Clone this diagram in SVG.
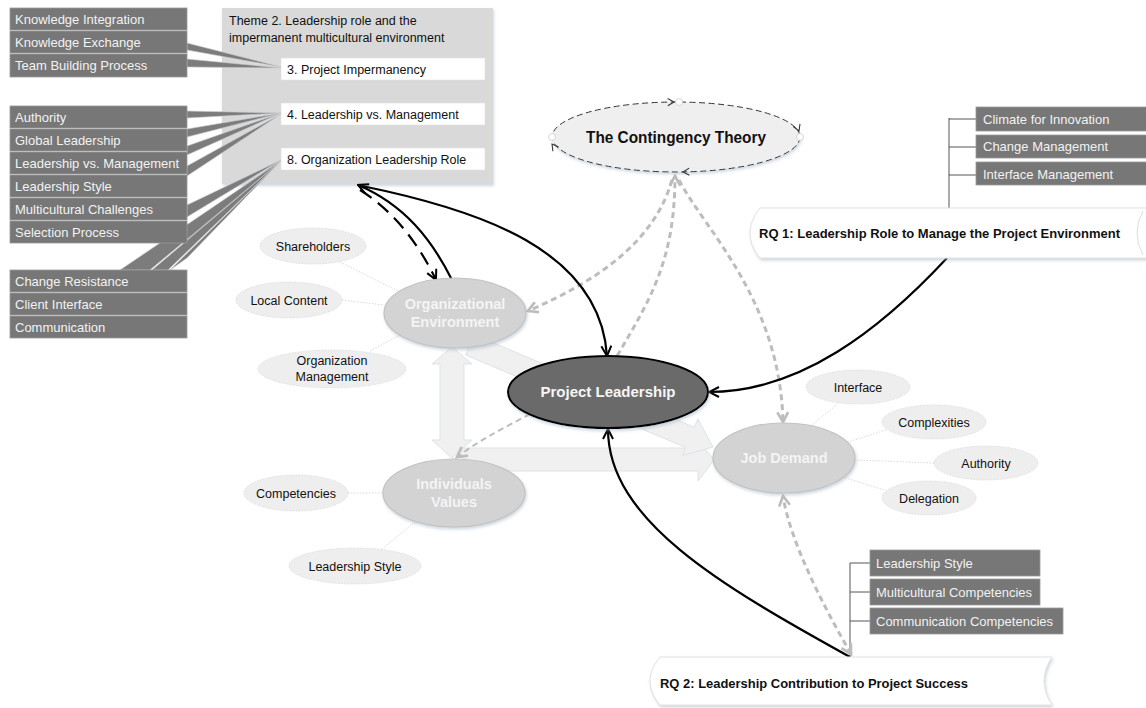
<svg xmlns="http://www.w3.org/2000/svg" width="1146" height="708" viewBox="0 0 1146 708">
<style>
text{font-family:"Liberation Sans",Arial,sans-serif}
.lb{fill:#777777;stroke:#9a9a9a;stroke-width:0.8}
.lt{fill:#f2f2f2;font-size:13px}
.wb{fill:#ffffff;stroke:#e0e0e0;stroke-width:0.6}
.wt{fill:#111;font-size:12.5px}
.wg{fill:#7c7c7c;stroke:#c8ccd2;stroke-width:0.6}
.sat{fill:#eeeeee;stroke:#d6d6d6;stroke-width:0.8;stroke-dasharray:1.5 1.5}
.st{fill:#111;font-size:12.5px;text-anchor:middle}
.main{fill:#d3d3d3;stroke:#c2c2c2;stroke-width:1.2}
.mt{fill:#f4f4f4;font-size:14.5px;font-weight:bold;text-anchor:middle}
.dot{stroke:#cfcfcf;stroke-width:0.8;stroke-dasharray:1.5 1.5;fill:none}
.pale{fill:#f0f0f0;stroke:#dbe3ea;stroke-width:1}
.blk{fill:none;stroke:#000;stroke-width:2.2}
.gd{fill:none;stroke:#bdbdbd;stroke-width:3;stroke-dasharray:6 4}
.br{fill:none;stroke:#555;stroke-width:1}
.rq{fill:#ffffff;stroke:#e2e2e2;stroke-width:1}
.rqt{fill:#111;font-size:13px;font-weight:bold}
</style>
<defs>
<filter id="sh" x="-10%" y="-10%" width="130%" height="150%">
<feDropShadow dx="1" dy="2" stdDeviation="1.5" flood-color="#9fb0c0" flood-opacity="0.5"/>
</filter>
<marker id="ab" viewBox="0 0 12 12" refX="11" refY="6" markerWidth="12" markerHeight="12" markerUnits="userSpaceOnUse" orient="auto">
<path d="M1,1 L11,6 L1,11" fill="none" stroke="#000" stroke-width="2"/>
</marker>
<marker id="ag" viewBox="0 0 12 12" refX="10" refY="6" markerWidth="13" markerHeight="13" markerUnits="userSpaceOnUse" orient="auto-start-reverse">
<path d="M1,1 L10,6 L1,11" fill="none" stroke="#bdbdbd" stroke-width="2.5"/>
</marker>
<marker id="as" viewBox="0 0 10 10" refX="8" refY="5" markerWidth="9" markerHeight="9" markerUnits="userSpaceOnUse" orient="auto">
<path d="M1,1 L8,5 L1,9" fill="none" stroke="#333" stroke-width="1.2"/>
</marker>
</defs>
<rect width="1146" height="708" fill="#ffffff"/>

<!-- pale background arrows -->
<g id="pale-arrows">
<polygon class="pale" points="452,347 472,364 464,364 464,440 472,440 452,458 432,440 440,440 440,364 432,364"/>
<polygon class="pale" points="462,448 698,448 698,440 714,460 698,481 698,471 462,471"/>
<polygon class="pale" points="474.3,334.9 694.3,427.2 697.8,418.9 713,447 682.2,455.7 685.7,447.4 465.7,355.1"/>
</g>

<!-- theme box -->
<g id="theme">
<rect x="222" y="8" width="271" height="176" fill="#d9d9d9" filter="url(#sh)"/>
<text x="229" y="25" class="wt">Theme 2. Leadership role and the</text>
<text x="229" y="42" class="wt">impermanent multicultural environment</text>
</g>
<g id="t3"><rect class="wb" x="281" y="58" width="204" height="22"/><text class="wt" x="287" y="74">3. Project Impermanency</text></g>
<g id="t4"><rect class="wb" x="281" y="103" width="204" height="22"/><text class="wt" x="287" y="119">4. Leadership vs. Management</text></g>
<g id="t8"><rect class="wb" x="281" y="148" width="204" height="22"/><text class="wt" x="287" y="164">8. Organization Leadership Role</text></g>

<!-- connectors -->
<g id="connectors">
<polygon class="wg" points="187,43 187,50 281,67"/>
<polygon class="wg" points="187,59 187,67 281,68"/>
<polygon class="wg" points="187,111 187,118 281,113"/>
<polygon class="wg" points="187,129 187,137 281,113"/>
<polygon class="wg" points="187,146 187,155 281,113"/>
<polygon class="wg" points="187,166 187,176 281,114"/>
<polygon class="wg" points="187,205 187,217 281,160"/>
<polygon class="wg" points="187,226 187,240 281,160"/>
<polygon class="wg" points="120,270 150,270 281,161"/>
<polygon class="wg" points="152,270 168,270 281,161"/>
<polygon class="wg" points="170,270 187,258 281,161"/>
<line class="dot" x1="340" y1="262" x2="400" y2="292"/>
<line class="dot" x1="342" y1="300" x2="384" y2="305"/>
<line class="dot" x1="370" y1="351" x2="400" y2="335"/>
<line class="dot" x1="348" y1="493" x2="383" y2="493"/>
<line class="dot" x1="382" y1="549" x2="415" y2="522"/>
<line class="dot" x1="840" y1="402" x2="812" y2="425"/>
<line class="dot" x1="886" y1="430" x2="848" y2="442"/>
<line class="dot" x1="934" y1="463" x2="856" y2="460"/>
<line class="dot" x1="884" y1="490" x2="846" y2="478"/>
<path class="br" d="M949,118 V208 M949,119 H976 M949,147 H976 M949,175 H976"/>
<path class="br" d="M850,563 V657 M850,563 H870 M850,592 H870 M850,621 H870"/>
<path class="gd" d="M672,180 C655,240 600,280 528,311" marker-end="url(#ag)"/>
<path class="gd" d="M617,356 C650,300 675,260 675,176" marker-end="url(#ag)"/>
<path class="gd" d="M679,180 C705,230 780,300 783,422" marker-end="url(#ag)"/>
<path class="gd" d="M530,414 C500,430 480,440 457,457" style="stroke-width:2" marker-end="url(#ag)"/>
<path class="gd" d="M851,654 C820,600 790,540 783,496" marker-start="url(#ag)" marker-end="url(#ag)"/>
<path class="blk" d="M452,280 C432,240 405,205 358,185" marker-end="url(#ab)"/>
<path class="blk" d="M360,190 C392,210 418,242 436,280" style="stroke-dasharray:14 8" marker-end="url(#ab)"/>
<path class="blk" d="M362,186 C480,210 600,250 607,356" marker-end="url(#ab)"/>
<path class="blk" d="M947,258 C880,330 800,392 709,392" marker-end="url(#ab)"/>
<path class="blk" d="M850,657 C720,585 608,520 608,429" marker-end="url(#ab)"/>
</g>

<!-- left boxes -->
<g id="n-ki"><rect class="lb" x="10" y="8" width="177" height="22"/><text class="lt" x="15" y="24">Knowledge Integration</text></g>
<g id="n-ke"><rect class="lb" x="10" y="31" width="177" height="22"/><text class="lt" x="15" y="47">Knowledge Exchange</text></g>
<g id="n-tb"><rect class="lb" x="10" y="54" width="177" height="23"/><text class="lt" x="15" y="70">Team Building Process</text></g>
<g id="n-au"><rect class="lb" x="10" y="106" width="177" height="22"/><text class="lt" x="15" y="122">Authority</text></g>
<g id="n-gl"><rect class="lb" x="10" y="129" width="177" height="22"/><text class="lt" x="15" y="145">Global Leadership</text></g>
<g id="n-lm"><rect class="lb" x="10" y="152" width="177" height="22"/><text class="lt" x="15" y="168">Leadership vs. Management</text></g>
<g id="n-ls"><rect class="lb" x="10" y="175" width="177" height="22"/><text class="lt" x="15" y="191">Leadership Style</text></g>
<g id="n-mc"><rect class="lb" x="10" y="198" width="177" height="22"/><text class="lt" x="15" y="214">Multicultural Challenges</text></g>
<g id="n-sp"><rect class="lb" x="10" y="221" width="177" height="22"/><text class="lt" x="15" y="237">Selection Process</text></g>
<g id="n-cr"><rect class="lb" x="10" y="270" width="177" height="22"/><text class="lt" x="15" y="286">Change Resistance</text></g>
<g id="n-ci"><rect class="lb" x="10" y="293" width="177" height="22"/><text class="lt" x="15" y="309">Client Interface</text></g>
<g id="n-co"><rect class="lb" x="10" y="316" width="177" height="22"/><text class="lt" x="15" y="332">Communication</text></g>

<!-- contingency -->
<g id="contingency">
<ellipse cx="676" cy="137" rx="124" ry="35" fill="#efefef" stroke="#333" stroke-width="1" stroke-dasharray="6 3.5" filter="url(#sh)"/>
<circle cx="679" cy="102" r="3.5" fill="#fff" stroke="#ccc" stroke-width="0.8"/>
<circle cx="800" cy="137" r="3.5" fill="#fff" stroke="#ccc" stroke-width="0.8"/>
<circle cx="552" cy="137" r="3.5" fill="#fff" stroke="#ccc" stroke-width="0.8"/>
<path d="M663,102.3 L674,102" fill="none" stroke="none" marker-end="url(#as)"/>
<path d="M795,121 L799,131" fill="none" stroke="none" marker-end="url(#as)"/>
<path d="M695,171.5 L683,172" fill="none" stroke="none" marker-end="url(#as)"/>
<path d="M558,152 L552,144" fill="none" stroke="none" marker-end="url(#as)"/>
<text x="676" y="143" style="font-size:16px;font-weight:bold;fill:#111" text-anchor="middle" textLength="180" lengthAdjust="spacingAndGlyphs">The Contingency Theory</text>
</g>

<!-- right boxes -->
<g id="n-cfi"><rect class="lb" x="976" y="107" width="172" height="24"/><text class="lt" x="983" y="124">Climate for Innovation</text></g>
<g id="n-cm"><rect class="lb" x="976" y="135" width="172" height="23"/><text class="lt" x="983" y="151">Change Management</text></g>
<g id="n-im"><rect class="lb" x="976" y="162" width="172" height="23"/><text class="lt" x="983" y="179">Interface Management</text></g>

<g id="rq1">
<path class="rq" d="M760,208 H1150 V258 H760 Q740,233 760,208 Z" filter="url(#sh)"/>
<path d="M1143,211 Q1131,233 1143,255" fill="none" stroke="#ddd" stroke-width="1"/>
<text class="rqt" x="759" y="238" textLength="361" lengthAdjust="spacingAndGlyphs">RQ 1: Leadership Role to Manage the Project Environment</text>
</g>

<!-- satellites -->
<g id="s-sh"><ellipse class="sat" cx="313" cy="246" rx="53" ry="18"/><text class="st" x="313" y="251">Shareholders</text></g>
<g id="s-lc"><ellipse class="sat" cx="289" cy="300" rx="53" ry="18"/><text class="st" x="289" y="305">Local Content</text></g>
<g id="s-om"><ellipse class="sat" cx="332" cy="369" rx="74" ry="19"/><text class="st" x="332" y="365">Organization</text><text class="st" x="332" y="381">Management</text></g>
<g id="s-cp"><ellipse class="sat" cx="296" cy="493" rx="52" ry="18"/><text class="st" x="296" y="498">Competencies</text></g>
<g id="s-ls"><ellipse class="sat" cx="355" cy="566" rx="66" ry="18"/><text class="st" x="355" y="571">Leadership Style</text></g>
<g id="s-if"><ellipse class="sat" cx="858" cy="387" rx="52" ry="17"/><text class="st" x="858" y="392">Interface</text></g>
<g id="s-cx"><ellipse class="sat" cx="934" cy="422" rx="52" ry="17"/><text class="st" x="934" y="427">Complexities</text></g>
<g id="s-au"><ellipse class="sat" cx="986" cy="463" rx="52" ry="17"/><text class="st" x="986" y="468">Authority</text></g>
<g id="s-dl"><ellipse class="sat" cx="929" cy="498" rx="47" ry="17"/><text class="st" x="929" y="503">Delegation</text></g>

<!-- main nodes -->
<g id="org-env"><ellipse class="main" cx="455" cy="313" rx="71" ry="35" filter="url(#sh)"/><text class="mt" x="455" y="309">Organizational</text><text class="mt" x="455" y="327">Environment</text></g>
<g id="ind-val"><ellipse class="main" cx="454" cy="493" rx="71" ry="34" filter="url(#sh)"/><text class="mt" x="454" y="489">Individuals</text><text class="mt" x="454" y="507">Values</text></g>
<g id="job-demand"><ellipse class="main" cx="784" cy="458" rx="71" ry="35" filter="url(#sh)"/><text class="mt" x="784" y="463">Job Demand</text></g>
<g id="proj-lead"><ellipse cx="608" cy="392" rx="100" ry="36" fill="#6b6b6b" stroke="#000" stroke-width="2" filter="url(#sh)"/><text x="608" y="397" style="fill:#f6f6f6;font-size:15px;font-weight:bold" text-anchor="middle">Project Leadership</text></g>

<!-- RQ2 -->
<g id="n-ls2"><rect class="lb" x="870" y="550" width="170" height="26"/><text class="lt" x="876" y="568">Leadership Style</text></g>
<g id="n-mcc"><rect class="lb" x="870" y="579" width="170" height="26"/><text class="lt" x="876" y="597">Multicultural Competencies</text></g>
<g id="n-ccc"><rect class="lb" x="870" y="608" width="193" height="26"/><text class="lt" x="876" y="626">Communication Competencies</text></g>
<g id="rq2">
<path class="rq" d="M660,657 H1052 Q1036,681 1052,705 H660 Q640,681 660,657 Z" filter="url(#sh)"/>
<text class="rqt" x="660" y="688" textLength="308" lengthAdjust="spacingAndGlyphs">RQ 2: Leadership Contribution to Project Success</text>
</g>
</svg>
